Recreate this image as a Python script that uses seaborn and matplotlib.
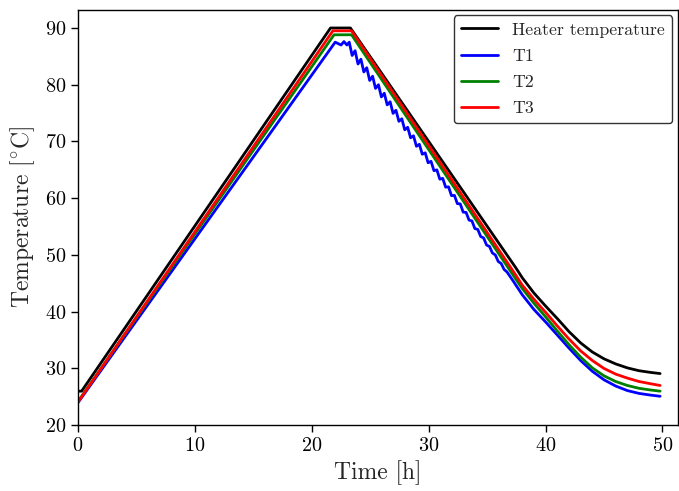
import numpy as np
import pandas as pd
import seaborn as sns
import matplotlib
matplotlib.use("Agg")
import matplotlib.pyplot as plt

# ---- data ----
heater_t = [0.0, 0.3, 21.6, 23.3, 37.5, 38.0, 39.0, 40.0, 41.0, 42.0, 43.0, 44.0, 45.0, 46.0, 47.0, 48.0, 49.0, 49.8]
heater_v = [26.0, 26.0, 90.0, 90.0, 47.6, 46.0, 43.3, 41.0, 38.8, 36.5, 34.5, 32.9, 31.7, 30.8, 30.1, 29.6, 29.3, 29.1]

t1_t = [0.0, 22.0, 22.5, 22.75, 23.0, 23.2,
        23.45, 23.7, 23.95, 24.2, 24.45, 24.7, 24.95, 25.2, 25.45, 25.7, 25.95, 26.2,
        26.45, 26.7, 26.95, 27.2, 27.45, 27.7, 27.95, 28.2, 28.45, 28.7, 28.95, 29.2,
        29.45, 29.7, 29.95, 30.2, 30.45, 30.7, 30.95, 31.2, 31.45, 31.7, 31.95, 32.2,
        32.45, 32.7, 32.95, 33.2, 33.45, 33.7, 33.95, 34.2, 34.45, 34.7, 34.95, 35.2,
        35.45, 35.7, 35.95, 36.2, 36.45, 36.7,
        37.2, 38.0, 39.0, 40.0, 41.0, 42.0, 43.0, 44.0, 45.0, 46.0, 47.0, 48.0, 49.0, 49.8]
t1_v = [24.0, 87.5, 87.0, 87.6, 87.0, 87.5,
        85.15, 86.0, 83.65, 84.5, 82.25, 83.0, 80.75, 81.5, 79.35, 80.0, 77.85, 78.5,
        76.45, 77.0, 74.95, 75.5, 73.55, 74.0, 72.05, 72.5, 70.65, 71.0, 69.15, 69.5,
        67.75, 68.0, 66.25, 66.5, 64.85, 65.0, 63.35, 63.5, 61.95, 62.0, 60.45, 60.5,
        59.05, 59.0, 57.55, 57.5, 56.15, 56.0, 54.65, 54.5, 53.25, 53.0, 51.75, 51.5,
        50.35, 50.0, 48.85, 48.5, 47.45, 47.0,
        45.5, 43.0, 40.4, 38.2, 35.9, 33.6, 31.4, 29.5, 28.0, 26.9, 26.1, 25.6, 25.3, 25.1]

t2_t = [0.0, 21.9, 23.4, 37.5, 38.0, 39.0, 40.0, 41.0, 42.0, 43.0, 44.0, 45.0, 46.0, 47.0, 48.0, 49.0, 49.8]
t2_v = [24.2, 88.8, 88.8, 45.6, 44.1, 41.5, 39.1, 36.6, 34.2, 32.0, 30.1, 28.7, 27.7, 27.0, 26.5, 26.2, 26.0]

t3_t = [0.0, 21.8, 23.4, 37.5, 38.0, 39.0, 40.0, 41.0, 42.0, 43.0, 44.0, 45.0, 46.0, 47.0, 48.0, 49.0, 49.8]
t3_v = [24.1, 89.5, 89.5, 46.3, 44.7, 42.2, 39.9, 37.5, 35.2, 33.1, 31.4, 30.0, 29.0, 28.3, 27.7, 27.3, 27.0]

series_names = ["Heater temperature", "T1", "T2", "T3"]
series_colors = ["black", "#0000ff", "#008000", "#ff0000"]
x_ticks = [0, 10, 20, 30, 40, 50]
y_ticks = [20, 30, 40, 50, 60, 70, 80, 90]

frames = []
for name, tt, vv in zip(series_names, [heater_t, t1_t, t2_t, t3_t], [heater_v, t1_v, t2_v, t3_v]):
    frames.append(pd.DataFrame({"time": tt, "temp": vv, "series": name}))
df = pd.concat(frames, ignore_index=True)

sns.set_theme(style="ticks")
plt.rcParams["font.family"] = ["cmr10", "DejaVu Serif"]
plt.rcParams["mathtext.fontset"] = "cm"
plt.rcParams["axes.formatter.use_mathtext"] = True
plt.rcParams["axes.unicode_minus"] = False

fig = plt.figure(figsize=(6.79, 4.91), dpi=100)
ax = fig.add_axes([0.115, 0.134, 0.883, 0.846])

sns.lineplot(data=df, x="time", y="temp", hue="series", hue_order=series_names,
             palette=dict(zip(series_names, series_colors)), estimator=None, sort=False,
             linewidth=2, ax=ax)

ax.set_xlim(0, 51.3)
ax.set_ylim(20, 93.2)
ax.set_xticks(x_ticks)
ax.set_yticks(y_ticks)
ax.tick_params(axis="both", labelsize=14.5, direction="out", length=5, width=1, colors="black")
ax.set_xlabel("Time [h]", fontsize=17, labelpad=4)
ax.set_ylabel(r"Temperature [$^{\circ}$C]", fontsize=17, labelpad=6)
for s in ax.spines.values():
    s.set_visible(True)
    s.set_color("black")
    s.set_linewidth(1)

handles, labels = ax.get_legend_handles_labels()
leg = ax.legend(handles, labels, loc="upper right", fontsize=12.8, frameon=True,
                fancybox=True, framealpha=1, edgecolor="#333333",
                borderaxespad=0.3, handlelength=2.1, labelspacing=0.6, title=None)
leg.get_frame().set_linewidth(1.0)

fig.savefig("out.png", dpi=100)
